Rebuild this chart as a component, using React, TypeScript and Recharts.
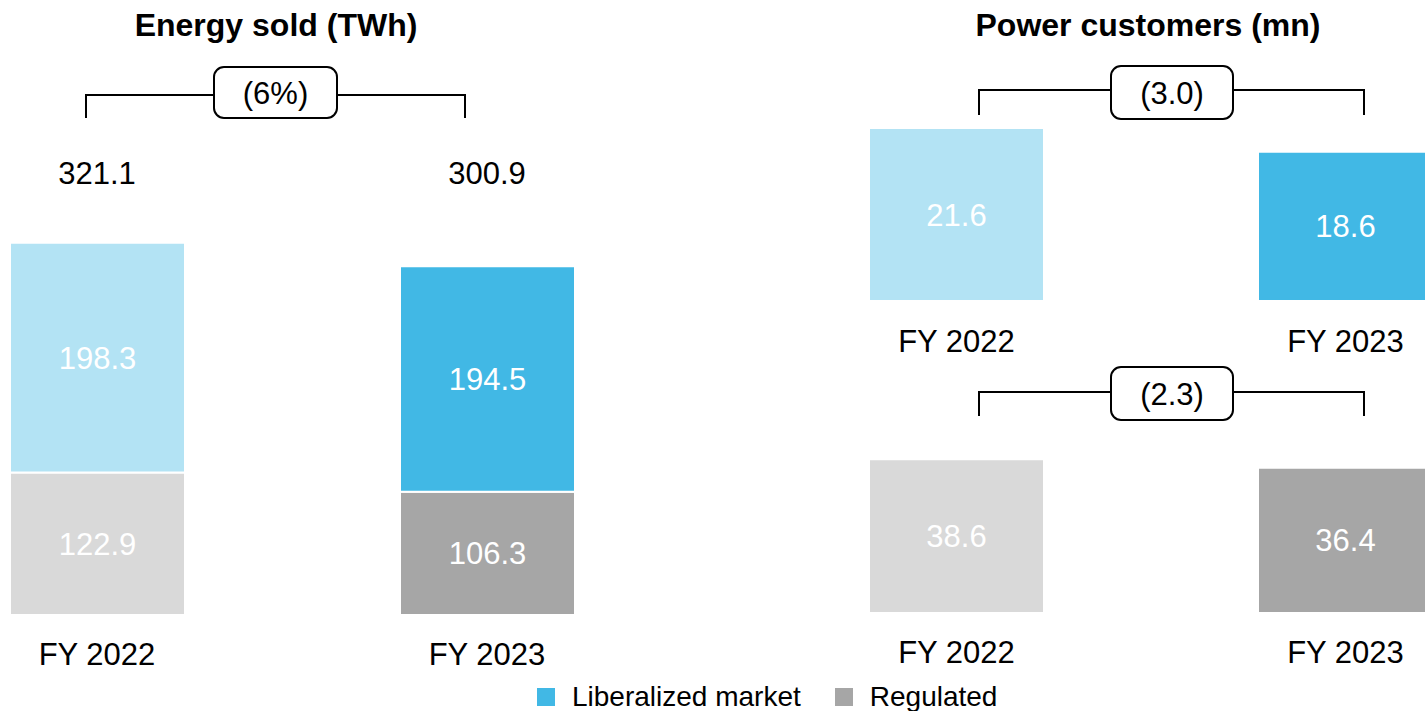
import { BarChart, Bar, XAxis, YAxis, Cell, LabelList, Legend } from "recharts";

const years = ["FY 2022", "FY 2023"];
const energyLiberalized = [198.3, 194.5];
const energyRegulated = [122.9, 106.3];
const energyTotals = ["321.1", "300.9"];
const customersLiberalized = [21.6, 18.6];
const customersRegulated = [38.6, 36.4];
const changeLabels = ["(6%)", "(3.0)", "(2.3)"];
const titles = ["Energy sold (TWh)", "Power customers (mn)"];
const seriesNames = ["Liberalized market", "Regulated"];

const LIB_COLORS = ["#B3E3F4", "#41B8E5"];
const REG_COLORS = ["#D9D9D9", "#A6A6A6"];
const FONT = "'Liberation Sans', Arial, Helvetica, sans-serif";

const energyData = years.map((year, i) => ({
  year,
  total: energyTotals[i],
  liberalized: energyLiberalized[i],
  regulated: energyRegulated[i],
}));
const customerLibData = years.map((year, i) => ({ year, value: customersLiberalized[i] }));
const customerRegData = years.map((year, i) => ({ year, value: customersRegulated[i] }));

const tickStyle = { fill: "#000", fontSize: 31 };
const valueLabel = { fill: "#fff", stroke: "none", fontSize: 31 };

function renderLegend(props: any) {
  const items = props.payload || [];
  return (
    <div style={{ display: "flex", alignItems: "center", whiteSpace: "nowrap" }}>
      {items.map((entry: any, i: number) => (
        <div key={i} style={{ display: "flex", alignItems: "center", marginRight: 34 }}>
          <span
            style={{ display: "inline-block", width: 18, height: 18, background: entry.color, marginRight: 17 }}
          />
          <span style={{ fontSize: 28, color: "#000", lineHeight: "32px" }}>{entry.value}</span>
        </div>
      ))}
    </div>
  );
}

// bracket + rounded box showing the year-on-year change
function Bracket({ x1, x2, yLine, yEnd, boxX, boxW, boxY, boxH, label }: any) {
  return (
    <g>
      <path
        d={`M${x1},${yEnd} V${yLine} H${boxX} M${boxX + boxW},${yLine} H${x2} V${yEnd}`}
        fill="none"
        stroke="#000"
        strokeWidth={2}
      />
      <rect x={boxX} y={boxY} width={boxW} height={boxH} rx={10} fill="#fff" stroke="#000" strokeWidth={2} />
      <text x={boxX + boxW / 2} y={boxY + boxH / 2 + 11} textAnchor="middle" fontSize={31} fill="#000">
        {label}
      </text>
    </g>
  );
}

export default function App() {
  return (
    <div
      style={{
        position: "absolute",
        left: 0,
        top: 0,
        width: 1425,
        height: 711,
        overflow: "hidden",
        background: "#fff",
        fontFamily: FONT,
      }}
    >
      {/* Energy sold, stacked */}
      <div style={{ position: "absolute", left: -98, top: 0 }}>
        <BarChart width={780} height={711} data={energyData} margin={{ top: 150, right: 0, left: 0, bottom: 36 }}>
          <XAxis dataKey="year" axisLine={false} tickLine={false} tick={tickStyle} tickMargin={22} height={60} interval={0} />
          <XAxis
            xAxisId="total"
            dataKey="total"
            orientation="top"
            axisLine={false}
            tickLine={false}
            tick={tickStyle}
            tickMargin={10}
            height={50}
            interval={0}
          />
          <YAxis hide domain={[0, 358]} />
          <Bar
            dataKey="regulated"
            name={seriesNames[1]}
            stackId="energy"
            fill={REG_COLORS[1]}
            stroke="#fff"
            strokeWidth={2}
            barSize={175}
            isAnimationActive={false}
          >
            {energyData.map((_, i) => (
              <Cell key={i} fill={REG_COLORS[i]} />
            ))}
            <LabelList dataKey="regulated" position="center" {...valueLabel} />
          </Bar>
          <Bar
            dataKey="liberalized"
            name={seriesNames[0]}
            stackId="energy"
            fill={LIB_COLORS[1]}
            stroke="#fff"
            strokeWidth={2}
            barSize={175}
            isAnimationActive={false}
          >
            {energyData.map((_, i) => (
              <Cell key={i} fill={LIB_COLORS[i]} />
            ))}
            <LabelList dataKey="liberalized" position="center" {...valueLabel} />
          </Bar>
          <Legend
            layout="horizontal"
            verticalAlign="middle"
            align="center"
            content={renderLegend}
            wrapperStyle={{ left: 635, top: 681, width: "auto" }}
          />
        </BarChart>
      </div>

      {/* Power customers, liberalized */}
      <div style={{ position: "absolute", left: 762, top: 0 }}>
        <BarChart width={778} height={360} data={customerLibData} margin={{ top: 110, right: 0, left: 0, bottom: 0 }}>
          <XAxis dataKey="year" axisLine={false} tickLine={false} tick={tickStyle} tickMargin={24} height={60} interval={0} />
          <YAxis hide domain={[0, 24]} />
          <Bar dataKey="value" name={seriesNames[0]} fill={LIB_COLORS[1]} barSize={173} isAnimationActive={false}>
            {customerLibData.map((_, i) => (
              <Cell key={i} fill={LIB_COLORS[i]} />
            ))}
            <LabelList dataKey="value" position="center" {...valueLabel} />
          </Bar>
        </BarChart>
      </div>

      {/* Power customers, regulated */}
      <div style={{ position: "absolute", left: 762, top: 360 }}>
        <BarChart width={778} height={351} data={customerRegData} margin={{ top: 75, right: 0, left: 0, bottom: 39 }}>
          <XAxis dataKey="year" axisLine={false} tickLine={false} tick={tickStyle} tickMargin={23} height={60} interval={0} />
          <YAxis hide domain={[0, 45]} />
          <Bar dataKey="value" name={seriesNames[1]} fill={REG_COLORS[1]} barSize={173} isAnimationActive={false}>
            {customerRegData.map((_, i) => (
              <Cell key={i} fill={REG_COLORS[i]} />
            ))}
            <LabelList dataKey="value" position="center" {...valueLabel} />
          </Bar>
        </BarChart>
      </div>

      {/* titles and change brackets */}
      <svg
        width={1425}
        height={711}
        style={{ position: "absolute", left: 0, top: 0, pointerEvents: "none", fontFamily: FONT }}
      >
        <text x={276} y={36} textAnchor="middle" fontSize={32} fontWeight="bold" fill="#000">
          {titles[0]}
        </text>
        <text x={1148} y={36} textAnchor="middle" fontSize={32} fontWeight="bold" fill="#000">
          {titles[1]}
        </text>
        <Bracket x1={86} x2={465} yLine={95} yEnd={118} boxX={214} boxW={123} boxY={67} boxH={51} label={changeLabels[0]} />
        <Bracket x1={979} x2={1364} yLine={90} yEnd={115} boxX={1111} boxW={122} boxY={66} boxH={53} label={changeLabels[1]} />
        <Bracket x1={979} x2={1364} yLine={392} yEnd={416} boxX={1111} boxW={122} boxY={367} boxH={53} label={changeLabels[2]} />
      </svg>
    </div>
  );
}
